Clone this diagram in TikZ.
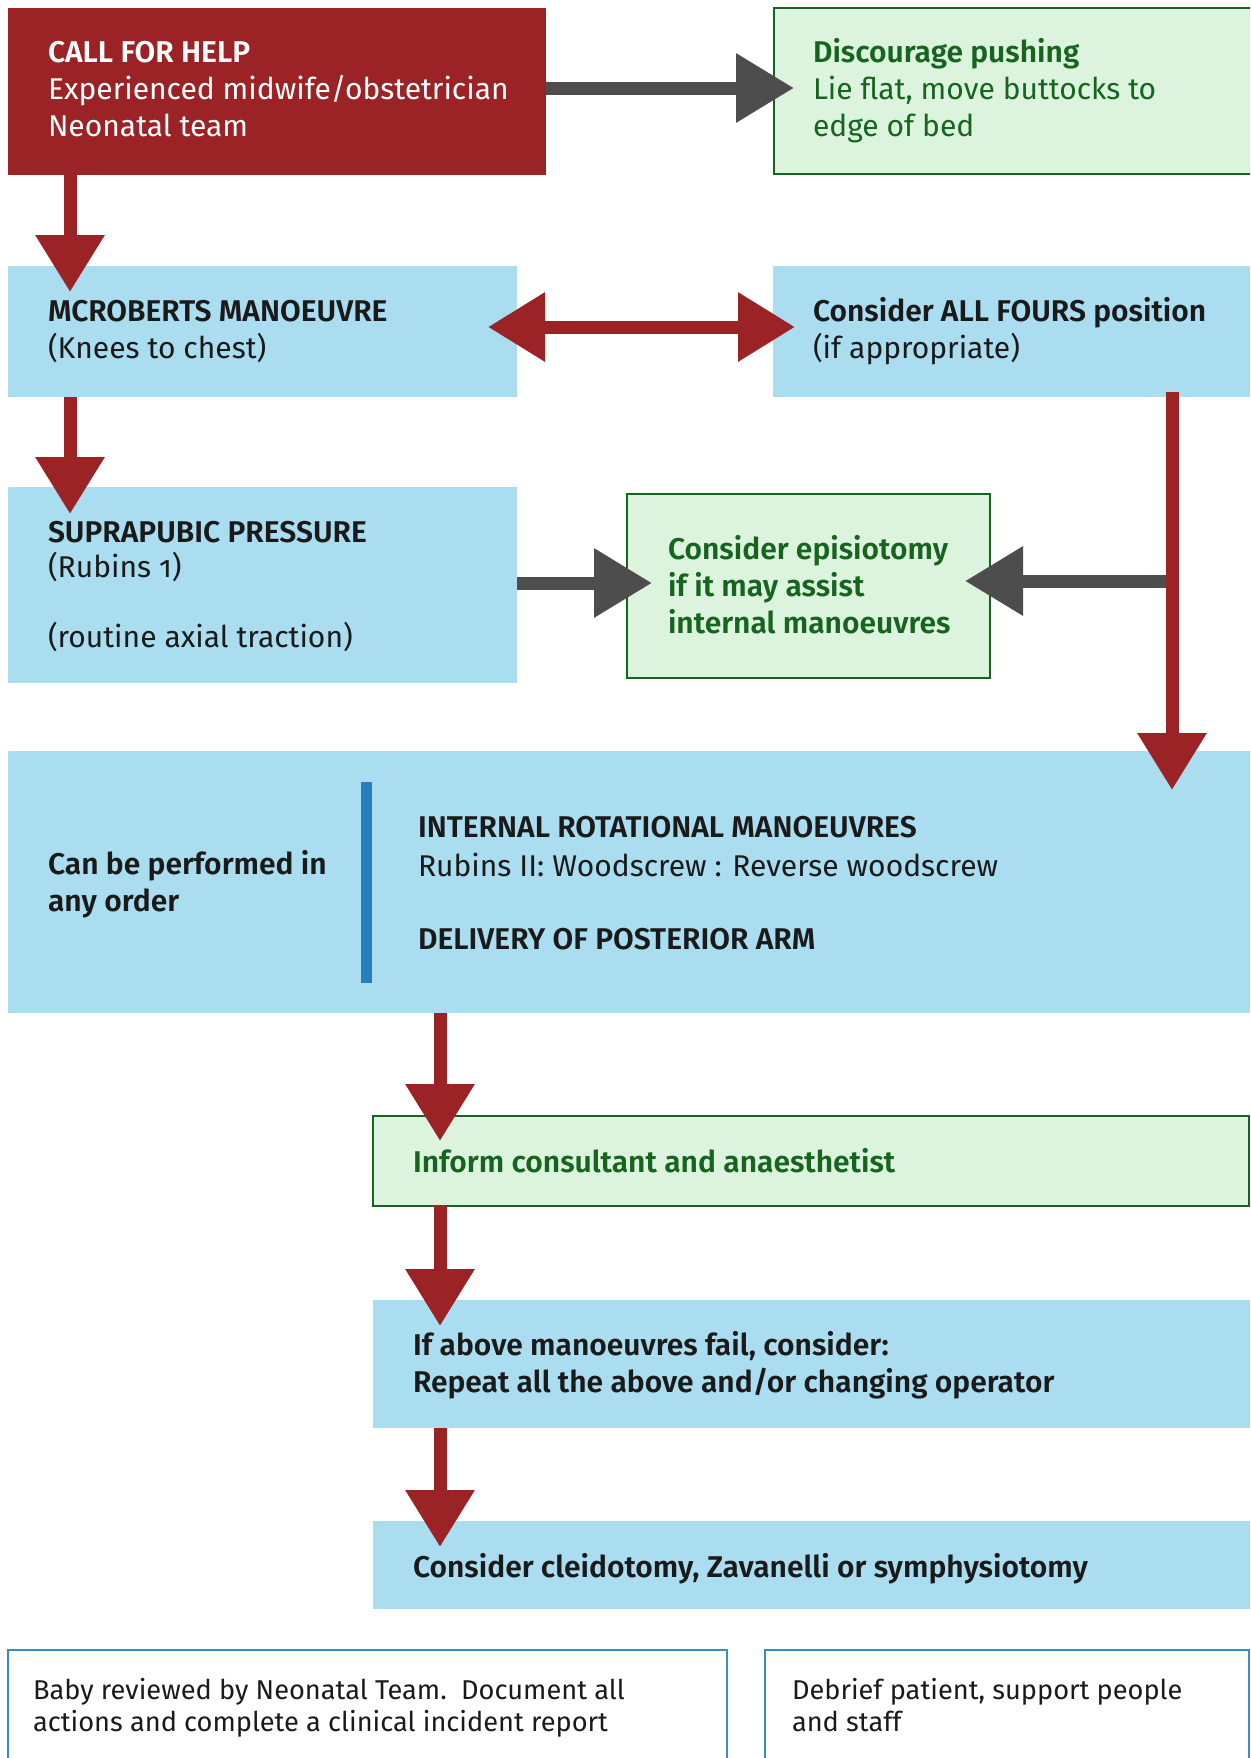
\documentclass[tikz,border=0pt]{standalone}
\usepackage{fontspec}
\setmainfont{Fira Sans}[Numbers=OldStyle,BoldFont={Fira Sans SemiBold}]
\usetikzlibrary{arrows.meta,fit,calc}
\definecolor{cred}{RGB}{155,35,38}
\definecolor{cblue}{RGB}{170,221,240}
\definecolor{cgfill}{RGB}{220,243,222}
\definecolor{cgreen}{RGB}{22,100,30}
\definecolor{cgrey}{RGB}{77,77,77}
\definecolor{cbar}{RGB}{38,128,190}
\definecolor{cframe}{RGB}{58,140,200}
\definecolor{ctext}{RGB}{26,26,26}
\newcommand\fs{\fontsize{15pt}{18.5pt}\selectfont}
\newcommand\fsb{\fontsize{13.6pt}{16pt}\selectfont}
\begin{document}
\begin{tikzpicture}[x=0.5pt,y=-0.5pt,
  box/.style={inner sep=0pt, outer sep=0pt},
  redbox/.style={box, fill=cred},
  bluebox/.style={box, fill=cblue},
  greenbox/.style={box, fill=cgfill, draw=cgreen, line width=1.2pt},
  framebox/.style={box, draw=cframe, line width=1pt},
  txt/.style={anchor=north west, inner sep=0pt, outer sep=0pt, align=left, font=\fs, text=ctext},
  wtxt/.style={txt, text=white},
  gtxt/.style={txt, text=cgreen},
  btxt/.style={txt, font=\fsb},
  redarrow/.style={draw=cred, line width=6.5pt, -{Triangle[length=28.5pt,width=33pt]}},
  redarrows/.style={draw=cred, line width=6.5pt, {Triangle[length=28.5pt,width=33pt]}-{Triangle[length=28.5pt,width=33pt]}},
  greyarrow/.style={draw=cgrey, line width=6.5pt, -{Triangle[length=29pt,width=33pt]}},
  bar/.style={fill=cbar}
]
\useasboundingbox (0,0) rectangle (1250,1758);
\clip (0,0) rectangle (1250,1758);

% boxes
\node[redbox,   fit={(8,8)(546,175)}] (help) {};
\node[greenbox, fit={(774,8)(1262,174)}] (disc) {};
\node[bluebox,  fit={(8,266)(517,397)}] (mcr) {};
\node[bluebox,  fit={(773,266)(1250,397)}] (fours) {};
\node[bluebox,  fit={(8,487)(517,683)}] (supra) {};
\node[greenbox, fit={(627,494)(990,678)}] (epi) {};
\node[bluebox,  fit={(8,751)(1250,1013)}] (irm) {};
\node[greenbox, fit={(373,1116)(1249,1206)}] (inform) {};
\node[bluebox,  fit={(373,1300)(1250,1428)}] (fail) {};
\node[bluebox,  fit={(373,1521)(1250,1609)}] (last) {};
\node[framebox, fit={(8,1650)(727,1800)}] (baby) {};
\node[framebox, fit={(765,1650)(1249,1800)}] (debrief) {};
\fill[bar] (361,782) rectangle (372,983);

% texts
\node[wtxt] (t1) at (48,37) {\strut\textbf{CALL FOR HELP}\\Experienced midwife/obstetrician\\Neonatal team};
\node[gtxt] (t2) at (813,37) {\strut\textbf{Discourage pushing}\\Lie flat, move buttocks to\\edge of bed};
\node[txt] (t3) at (48,296) {\strut\textbf{MCROBERTS MANOEUVRE}\\(Knees to chest)};
\node[txt] (t4) at (813,296) {\strut\textbf{Consider ALL FOURS position}\\(if appropriate)};
\node[txt] (t5) at (48,517) {\strut\textbf{SUPRAPUBIC PRESSURE}\\[-1pt](Rubins 1)};
\node[txt] (t6) at (48,622) {\strut(routine axial traction)};
\node[gtxt] (t7) at (668,534) {\strut\textbf{Consider episiotomy}\\\textbf{if it may assist}\\\textbf{internal manoeuvres}};
\node[txt] (t8) at (48,849) {\strut\textbf{Can be performed in}\\\textbf{any order}};
\node[txt] (t9) at (418,812) {\strut\textbf{INTERNAL ROTATIONAL MANOEUVRES}\\[1pt]Rubins II: Woodscrew : Reverse woodscrew};
\node[txt] (t10) at (418,924) {\strut\textbf{DELIVERY OF POSTERIOR ARM}};
\node[gtxt] (t11) at (413,1147) {\strut\textbf{Inform consultant and anaesthetist}};
\node[txt] (t12) at (413,1330) {\strut\textbf{If above manoeuvres fail, consider:}\\\textbf{Repeat all the above and/or changing operator}};
\node[txt] (t13) at (413,1552) {\strut\textbf{Consider cleidotomy, Zavanelli or symphysiotomy}};
\node[btxt] (t14) at (33,1677) {\strut Baby reviewed by Neonatal Team.\ \ Document all\\actions and complete a clinical incident report};
\node[btxt] (t15) at (792,1677) {\strut Debrief patient, support people\\and staff};

% connectors
\draw[greyarrow] (help.east |- 0,88) -- ($(disc.west |- 0,88)+(20,0)$);
\draw[redarrow] (help.south -| 70,0) -- ($(mcr.north -| 70,0)+(0,26)$);
\draw[redarrows] ($(mcr.east |- 0,327)+(-29,0)$) -- ($(fours.west |- 0,327)+(22,0)$);
\draw[redarrow] (mcr.south -| 70,0) -- ($(supra.north -| 70,0)+(0,27)$);
\draw[greyarrow] (supra.east |- 0,583) -- ($(epi.west |- 0,583)+(25,0)$);
\coordinate (j) at ($(fours.south -| 1172,0)+(0,184)$);
\draw[greyarrow] (j) -- ($(epi.east |- j)+(-25,0)$);
\draw[redarrow] ($(fours.south -| 1172,0)+(0,-5)$) -- ($(irm.north -| 1172,0)+(0,39)$);
\draw[redarrow] (irm.south -| 440,0) -- ($(inform.north -| 440,0)+(0,25)$);
\draw[redarrow] (inform.south -| 440,0) -- ($(fail.north -| 440,0)+(0,26)$);
\draw[redarrow] (fail.south -| 440,0) -- ($(last.north -| 440,0)+(0,26)$);
\end{tikzpicture}
\end{document}
